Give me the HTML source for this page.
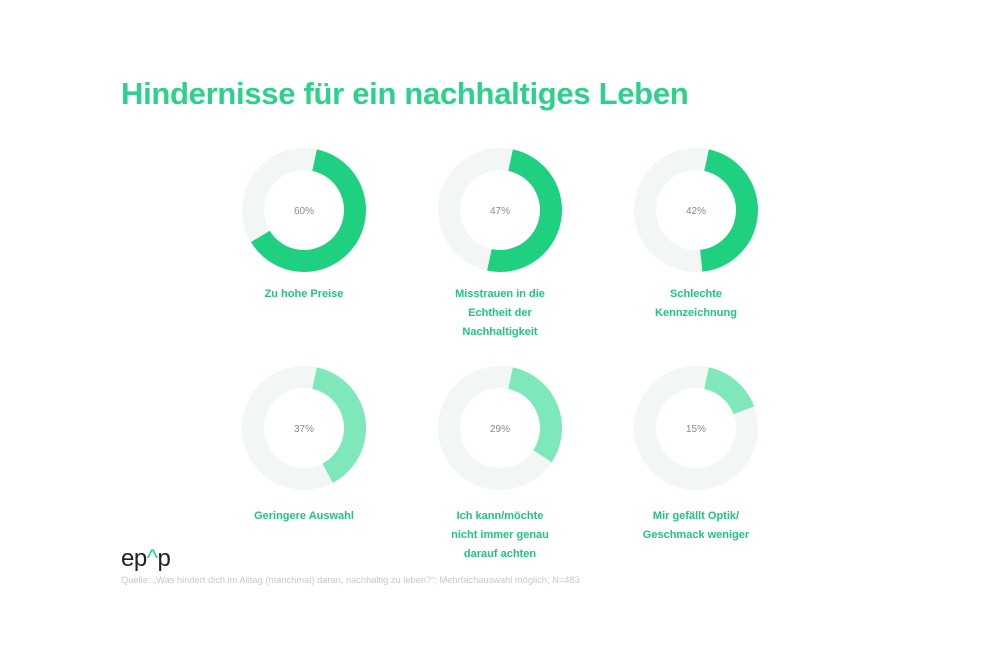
<!DOCTYPE html>
<html><head><meta charset="utf-8"><style>
body{margin:0;width:1000px;height:667px;background:#fff;position:relative;font-family:"Liberation Sans",sans-serif;overflow:hidden}
h1{position:absolute;left:121px;top:76px;margin:0;font-size:31px;font-weight:bold;color:#2dd18a;letter-spacing:-0.3px}
.lab{position:absolute;width:200px;text-align:center;font-size:11px;font-weight:bold;color:#22c47c;line-height:19px}
svg{position:absolute;left:0;top:0}
.logo{position:absolute;left:121px;top:545px;font-size:24px;color:#222;letter-spacing:-0.5px}
.src{position:absolute;left:121px;top:575px;font-size:9.3px;color:#c8c8c8}
</style></head><body>
<h1>Hindernisse für ein nachhaltiges Leben</h1>
<svg width="1000" height="667" font-family="Liberation Sans, sans-serif">
<g fill="none" stroke-width="22">
<circle cx="304" cy="210" r="51" stroke="#f2f7f5"/>
<circle cx="500" cy="210" r="51" stroke="#f2f7f5"/>
<circle cx="696" cy="210" r="51" stroke="#f2f7f5"/>
<circle cx="304" cy="428" r="51" stroke="#f2f7f5"/>
<circle cx="500" cy="428" r="51" stroke="#f2f7f5"/>
<circle cx="696" cy="428" r="51" stroke="#f2f7f5"/>
<circle cx="304" cy="210" r="51" stroke="#1ed07f" pathLength="100" stroke-dasharray="63 100" transform="rotate(-78 304 210)"/>
<circle cx="500" cy="210" r="51" stroke="#1ed07f" pathLength="100" stroke-dasharray="50 100" transform="rotate(-78 500 210)"/>
<circle cx="696" cy="210" r="51" stroke="#1ed07f" pathLength="100" stroke-dasharray="45 100" transform="rotate(-78 696 210)"/>
<circle cx="304" cy="428" r="51" stroke="#7fe8bb" pathLength="100" stroke-dasharray="39 100" transform="rotate(-78 304 428)"/>
<circle cx="500" cy="428" r="51" stroke="#7fe8bb" pathLength="100" stroke-dasharray="31 100" transform="rotate(-78 500 428)"/>
<circle cx="696" cy="428" r="51" stroke="#7fe8bb" pathLength="100" stroke-dasharray="16 100" transform="rotate(-78 696 428)"/>
</g>
<g font-size="10" fill="#888" text-anchor="middle">
<text x="304" y="214">60%</text><text x="500" y="214">47%</text><text x="696" y="214">42%</text>
<text x="304" y="432">37%</text><text x="500" y="432">29%</text><text x="696" y="432">15%</text>
</g>
</svg>
<div class="lab" style="left:204px;top:285px">Zu hohe Preise</div>
<div class="lab" style="left:400px;top:285px">Misstrauen in die<br>Echtheit der<br>Nachhaltigkeit</div>
<div class="lab" style="left:596px;top:285px">Schlechte<br>Kennzeichnung</div>
<div class="lab" style="left:204px;top:507px">Geringere Auswahl</div>
<div class="lab" style="left:400px;top:507px">Ich kann/möchte<br>nicht immer genau<br>darauf achten</div>
<div class="lab" style="left:596px;top:507px">Mir gefällt Optik/<br>Geschmack weniger</div>
<div class="logo">ep<span style="color:#2dd18a">^</span>p</div>
<div class="src">Quelle: „Was hindert dich im Alltag (manchmal) daran, nachhaltig zu leben?“; Mehrfachauswahl möglich; N=483</div>
</body></html>
